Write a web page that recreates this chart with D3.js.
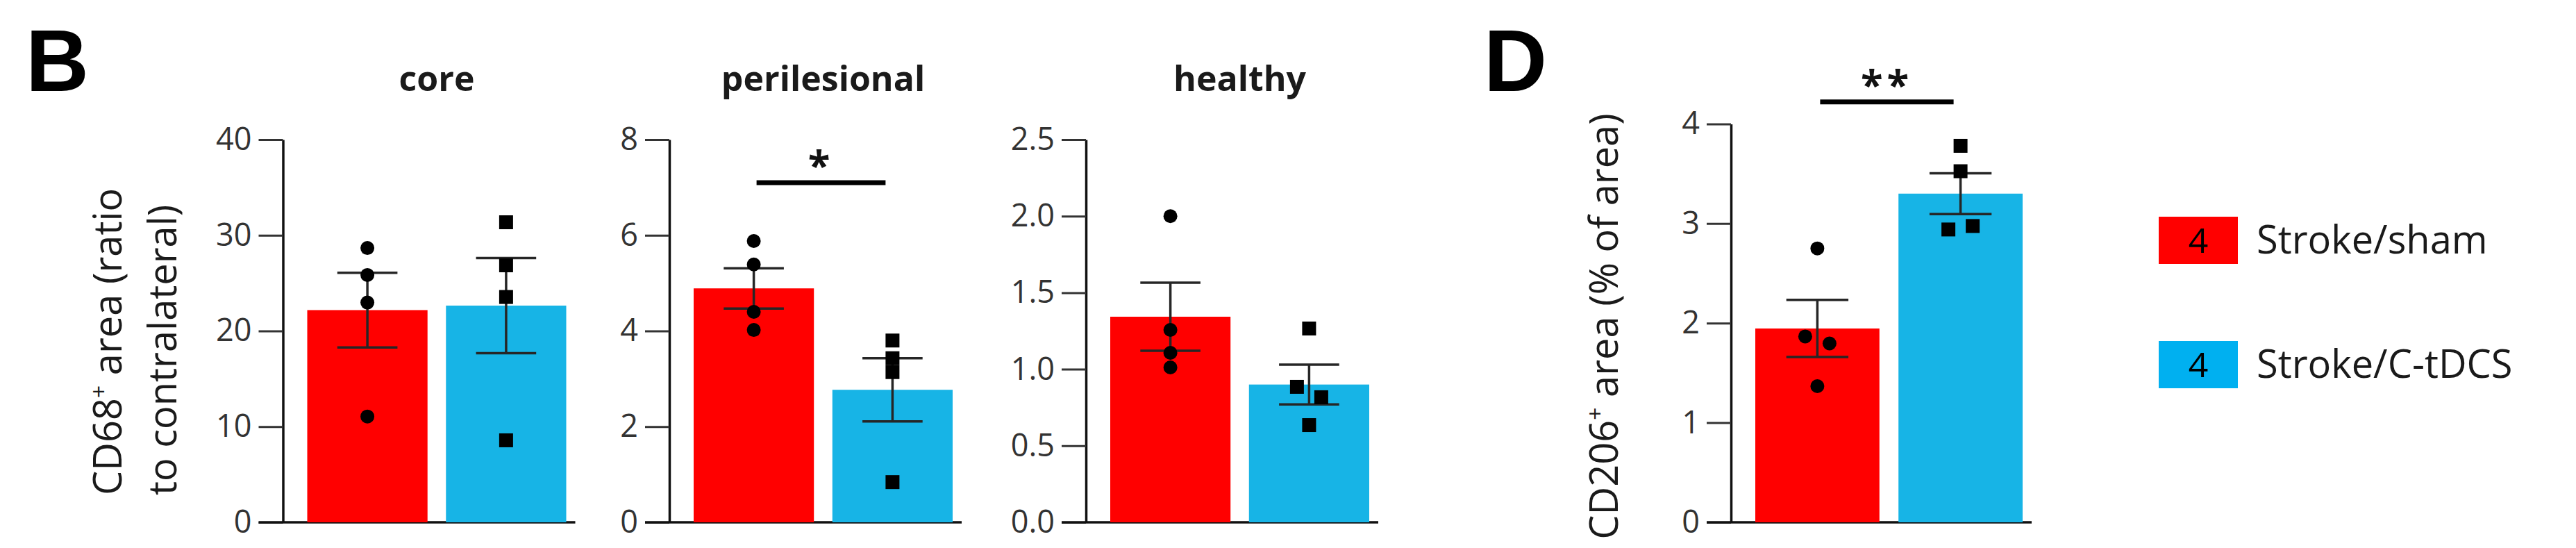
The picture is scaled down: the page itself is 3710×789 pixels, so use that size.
<!DOCTYPE html>
<html>
<head>
<meta charset="utf-8">
<script src="https://cdn.jsdelivr.net/npm/d3@7"></script>
<style>
    body { margin: 0; background: #fff; }
    text { font-family: "Open Sans", "Noto Sans", sans-serif; }
</style>
</head>
<body>
<div id="chart"></div>
<script>
// Data
const regions = ['core', 'perilesional', 'healthy', 'CD206'];
const groups = ['Stroke/sham', 'Stroke/C-tDCS'];
const groupN = [4, 4];

const yMax = [40, 8, 2.5, 4];
const yTicks = [[0, 10, 20, 30, 40], [0, 2, 4, 6, 8], [0, 0.5, 1, 1.5, 2, 2.5], [0, 1, 2, 3, 4]];
const tickFormats = ['d', 'd', '.1f', 'd'];

const shamMean = [22.18, 4.89, 1.343, 1.946];
const shamSem = [3.9, 0.42, 0.222, 0.287];
const tdcsMean = [22.65, 2.77, 0.90, 3.30];
const tdcsSem = [4.98, 0.66, 0.13, 0.205];

const shamPoints = [
    [28.67, 25.85, 22.97, 11.06],
    [5.88, 5.39, 4.40, 4.02],
    [2.00, 1.257, 1.107, 1.012],
    [2.75, 1.866, 1.796, 1.367]
];
const tdcsPoints = [
    [31.36, 26.86, 23.55, 8.57],
    [3.80, 3.43, 3.14, 0.84],
    [1.266, 0.885, 0.817, 0.635],
    [3.78, 3.525, 2.94, 2.975]
];

const sigLabels = ['', '*', '', '**'];
const sigLevels = [null, 7.1, null, 4.22];

// Width, height and layout
const svgWidth = 3710;
const svgHeight = 789;
const baseY = 752;
const panelX = [407.5, 964, 1564, 2493];
const panelTop = [201, 201, 201, 178.4];
const panelEnd = [408, 408, 408, 420];
const tickLen = 35;

const barColors = ['#ff0000', '#17b4e6'];
const legendColors = ['#ff0000', '#00b0f0'];

const svg = d3.select('#chart')
    .append('svg')
    .attr('width', svgWidth)
    .attr('height', svgHeight);

// spread points sideways when they sit on top of each other
function spread(vals, y) {
    const py = vals.map(v => y(v));
    const order = d3.range(vals.length).sort((a, b) => py[a] - py[b]);
    const offs = vals.map(() => 0);
    let cluster = [order[0]];
    const flush = () => {
        const c = cluster.slice().sort((a, b) => a - b);
        c.forEach((idx, k) => offs[idx] = (k - (c.length - 1) / 2) * 35);
    };
    for (let k = 1; k < order.length; k++) {
        if (py[order[k]] - py[order[k - 1]] < 17) cluster.push(order[k]);
        else { flush(); cluster = [order[k]]; }
    }
    flush();
    return offs;
}

regions.forEach((region, i) => {
    const g = svg.append('g').attr('class', 'panel');

    // The Y-scale and Y-axis
    const y = d3.scaleLinear()
        .domain([0, yMax[i]])
        .range([baseY, panelTop[i]]);

    const yAxis = d3.axisLeft(y)
        .tickValues(yTicks[i])
        .tickFormat(d3.format(tickFormats[i]))
        .tickSize(tickLen)
        .tickSizeOuter(0)
        .tickPadding(10);

    const ax = g.append('g')
        .attr('transform', `translate(${panelX[i]},0)`)
        .call(yAxis);
    ax.select('.domain').attr('stroke', '#111').attr('stroke-width', 3.5);
    ax.selectAll('.tick line').attr('stroke', '#333').attr('stroke-width', 3);
    ax.selectAll('.tick text')
        .attr('fill', '#333')
        .style('font-size', '45px')
        .style('font-family', '"Open Sans", sans-serif');

    // The X-scale (bands for the two groups)
    const x = d3.scaleBand()
        .domain(groups)
        .range([panelX[i] + 35, panelX[i] + panelEnd[i]])
        .paddingInner(0.133);
    const bw = x.bandwidth();

    // X-axis line
    g.append('line')
        .attr('x1', panelX[i] - tickLen)
        .attr('x2', x.range()[1] + 13)
        .attr('y1', y(0))
        .attr('y2', y(0))
        .attr('stroke', '#111')
        .attr('stroke-width', 3.5);

    const means = [shamMean[i], tdcsMean[i]];
    const sems = [shamSem[i], tdcsSem[i]];
    const pts = [shamPoints[i], tdcsPoints[i]];

    // Bars
    g.selectAll('rect.bar')
        .data(groups)
        .join('rect')
        .attr('class', 'bar')
        .attr('x', d => x(d))
        .attr('y', (d, k) => y(means[k]))
        .attr('width', bw)
        .attr('height', (d, k) => y(0) - y(means[k]))
        .attr('fill', (d, k) => barColors[k]);

    // Error bars (mean +/- SEM)
    groups.forEach((grp, k) => {
        const cx = x(grp) + bw / 2;
        const eb = g.append('g').attr('stroke', '#262626').attr('stroke-width', 3.5);
        eb.append('line')
            .attr('x1', cx).attr('x2', cx)
            .attr('y1', y(means[k] + sems[k]))
            .attr('y2', y(means[k] - sems[k]));
        [means[k] + sems[k], means[k] - sems[k]].forEach(v => {
            eb.append('line')
                .attr('x1', cx - bw / 4).attr('x2', cx + bw / 4)
                .attr('y1', y(v)).attr('y2', y(v));
        });

        // Individual animals
        const offs = spread(pts[k], y);
        if (k === 0) {
            g.append('g')
                .selectAll('circle')
                .data(pts[k])
                .join('circle')
                .attr('cx', (d, j) => cx + offs[j])
                .attr('cy', d => y(d))
                .attr('r', 10)
                .attr('fill', '#000');
        } else {
            g.append('g')
                .selectAll('rect')
                .data(pts[k])
                .join('rect')
                .attr('x', (d, j) => cx + offs[j] - 10)
                .attr('y', d => y(d) - 10)
                .attr('width', 20)
                .attr('height', 20)
                .attr('fill', '#000');
        }
    });

    // Significance bar
    if (sigLevels[i] !== null) {
        const x1 = x(groups[0]) + bw / 2 + 4;
        const x2 = x(groups[1]) + bw / 2 - 10;
        g.append('line')
            .attr('x1', x1).attr('x2', x2)
            .attr('y1', y(sigLevels[i])).attr('y2', y(sigLevels[i]))
            .attr('stroke', '#000')
            .attr('stroke-width', 7);
        g.append('text')
            .attr('x', (x1 + x2) / 2)
            .attr('y', y(sigLevels[i]) - 4)
            .attr('text-anchor', 'middle')
            .attr('letter-spacing', 6)
            .style('font-size', '58px')
            .style('font-weight', 700)
            .attr('fill', '#111')
            .text(sigLabels[i]);
    }

    // Region titles (panel B only)
    if (i < 3) {
        g.append('text')
            .attr('x', (x.range()[0] + x.range()[1]) / 2)
            .attr('y', 131)
            .attr('text-anchor', 'middle')
            .style('font-size', '50px')
            .style('font-weight', 700)
            .attr('fill', '#1a1a1a')
            .text(region);
    }
});

// Panel letters
svg.append('text').attr('x', 37).attr('y', 131)
    .style('font-family', '"Liberation Sans", Arial, sans-serif')
    .style('font-size', '126px').style('font-weight', 700).text('B');
svg.append('text').attr('x', 2137).attr('y', 131)
    .style('font-family', '"Liberation Sans", Arial, sans-serif')
    .style('font-size', '126px').style('font-weight', 700).text('D');

// Y-axis titles
const yTitleB = svg.append('text')
    .attr('transform', 'translate(175, 713) rotate(-90)')
    .attr('text-anchor', 'start')
    .style('font-size', '56px')
    .attr('fill', '#1a1a1a');
yTitleB.append('tspan').text('CD68');
yTitleB.append('tspan').attr('baseline-shift', 'super').style('font-size', '32px').text('+');
yTitleB.append('tspan').text(' area (ratio');

svg.append('text')
    .attr('transform', 'translate(254, 713) rotate(-90)')
    .attr('text-anchor', 'start')
    .style('font-size', '56px')
    .attr('fill', '#1a1a1a')
    .text('to contralateral)');

const yTitleD = svg.append('text')
    .attr('transform', 'translate(2330, 470) rotate(-90)')
    .attr('text-anchor', 'middle')
    .style('font-size', '56px')
    .attr('fill', '#1a1a1a');
yTitleD.append('tspan').text('CD206');
yTitleD.append('tspan').attr('baseline-shift', 'super').style('font-size', '32px').text('+');
yTitleD.append('tspan').text(' area (% of area)');

// Legend
const legend = svg.append('g')
    .selectAll('g')
    .data(groups)
    .join('g')
    .attr('transform', (d, k) => `translate(3109, ${312 + k * 179})`);

legend.append('rect')
    .attr('width', 114)
    .attr('height', 68)
    .attr('fill', (d, k) => legendColors[k]);

legend.append('text')
    .attr('x', 57)
    .attr('y', 52)
    .attr('text-anchor', 'middle')
    .style('font-size', '50px')
    .attr('fill', '#000')
    .text((d, k) => groupN[k]);

legend.append('text')
    .attr('x', 141)
    .attr('y', 53)
    .style('font-size', '56px')
    .attr('fill', '#1a1a1a')
    .text(d => d);
</script>
</body>
</html>
